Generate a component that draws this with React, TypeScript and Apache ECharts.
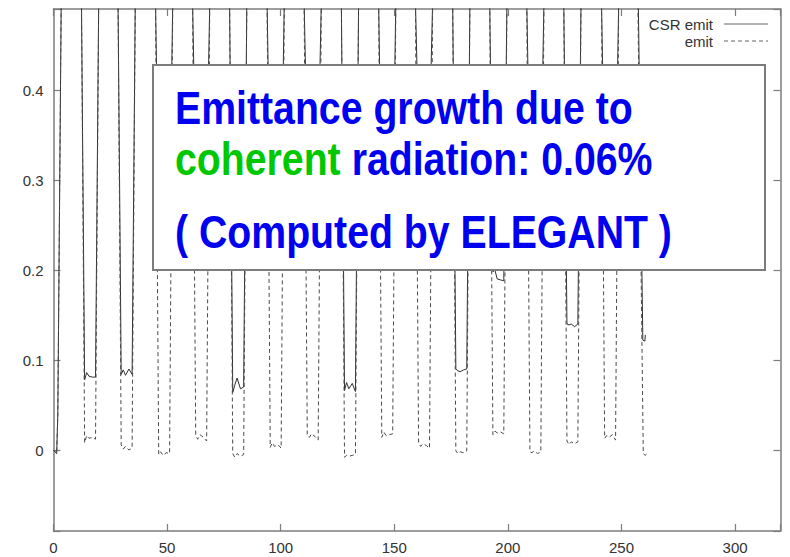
import { useEffect, useRef } from 'react';
import * as echarts from 'echarts';

// Axis extents and tick labels
const xRange = [0, 320];
const yRange = [-0.09, 0.49];
const xTickLabels = ['0', '50', '100', '150', '200', '250', '300'];
const yTickLabels = ['0', '0.1', '0.2', '0.3', '0.4'];

const seriesNames = ['CSR emit', 'emit'];

// Emittance along the beamline: [s, value] pairs. Between the dips the
// values run far above the plotted range and are clipped by the frame.
const emitPoints: [number, number][] = [
  [0, 0], [1.4, -0.004], [1.9, 0.04], [3.4, 0.5], [8.2, 1.6],
  [12.3, 0.5], [13.7, 0.008], [14.6, 0.016], [15.6, 0.013], [17.1, 0.014], [18.5, 0.012], [19.9, 0.5], [24.2, 1.6],
  [28.4, 0.5], [29.8, 0.006], [30.7, 0.001], [31.7, 0.004], [33.2, 0.0], [34.6, 0.002], [36.0, 0.5], [40.4, 1.6],
  [44.9, 0.5], [46.3, -0.005], [47.2, -0.002], [48.2, -0.006], [49.7, -0.003], [51.1, -0.004], [52.5, 0.5], [56.9, 1.6],
  [61.2, 0.5], [62.6, 0.016], [63.5, 0.012], [64.5, 0.017], [66.0, 0.014], [67.4, 0.01], [68.8, 0.5], [73.2, 1.6],
  [77.5, 0.5], [78.9, -0.004], [79.8, -0.008], [80.8, -0.004], [82.3, -0.007], [83.7, -0.005], [85.1, 0.5], [89.5, 1.6],
  [94.0, 0.5], [95.4, 0.003], [96.3, 0.008], [97.3, 0.004], [98.8, 0.006], [100.2, 0.002], [101.6, 0.5], [106.0, 1.6],
  [110.3, 0.5], [111.7, 0.016], [112.6, 0.014], [113.6, 0.018], [115.1, 0.015], [116.5, 0.011], [117.9, 0.5], [122.3, 1.6],
  [126.7, 0.5], [128.1, -0.008], [129.0, -0.006], [130.0, -0.007], [131.5, -0.006], [132.9, -0.005], [134.3, 0.5], [138.7, 1.6],
  [143.1, 0.5], [144.5, 0.014], [145.4, 0.02], [146.4, 0.016], [147.9, 0.017], [149.3, 0.018], [150.7, 0.5], [155.0, 1.6],
  [159.3, 0.5], [160.7, 0.008], [161.6, 0.004], [162.6, 0.007], [164.1, 0.005], [165.5, 0.002], [166.9, 0.5], [171.3, 1.6],
  [175.7, 0.5], [177.1, -0.001], [178.0, -0.004], [179.0, -0.002], [180.5, -0.003], [181.9, -0.001], [183.3, 0.5], [187.6, 1.6],
  [192.0, 0.5], [193.4, 0.017], [194.3, 0.021], [195.3, 0.019], [196.8, 0.02], [198.2, 0.018], [199.6, 0.5], [204.0, 1.6],
  [208.3, 0.5], [209.7, -0.002], [210.6, -0.003], [211.6, -0.001], [213.1, -0.004], [214.5, -0.002], [215.9, 0.5], [220.2, 1.6],
  [224.6, 0.5], [226.0, 0.01], [226.9, 0.006], [227.9, 0.009], [229.4, 0.007], [230.8, 0.009], [232.2, 0.5], [236.7, 1.6],
  [241.2, 0.5], [242.6, 0.013], [243.5, 0.016], [244.5, 0.014], [246.0, 0.017], [247.4, 0.011], [248.8, 0.5], [253.1, 1.6],
  [257.2, 0.5], [259.6, -0.004], [260.4, -0.006], [261.3, -0.004],
];

const csrEmitPoints: [number, number][] = [
  [0, 0], [1.4, -0.004], [1.9, 0.04], [3.4, 0.5], [8.2, 1.6],
  [12.3, 0.5], [13.7, 0.078], [14.6, 0.086], [15.6, 0.082], [17.1, 0.081], [18.5, 0.081], [19.9, 0.5], [24.2, 1.6],
  [28.4, 0.5], [29.8, 0.084], [30.7, 0.089], [31.7, 0.083], [33.2, 0.09], [34.6, 0.084], [36.0, 0.5], [40.4, 1.6],
  [44.9, 0.5], [46.3, 0.262], [47.2, 0.258], [48.2, 0.264], [49.7, 0.26], [51.1, 0.262], [52.5, 0.5], [56.9, 1.6],
  [61.2, 0.5], [62.6, 0.31], [63.5, 0.305], [64.5, 0.312], [66.0, 0.308], [67.4, 0.31], [68.8, 0.5], [73.2, 1.6],
  [77.5, 0.5], [78.9, 0.064], [79.8, 0.072], [80.8, 0.08], [82.3, 0.068], [83.7, 0.07], [85.1, 0.5], [89.5, 1.6],
  [94.0, 0.5], [95.4, 0.28], [96.3, 0.284], [97.3, 0.279], [98.8, 0.282], [100.2, 0.28], [101.6, 0.5], [106.0, 1.6],
  [110.3, 0.5], [111.7, 0.33], [112.6, 0.334], [113.6, 0.328], [115.1, 0.331], [116.5, 0.33], [117.9, 0.5], [122.3, 1.6],
  [126.7, 0.5], [128.1, 0.066], [129.0, 0.075], [130.0, 0.068], [131.5, 0.074], [132.9, 0.065], [134.3, 0.5], [138.7, 1.6],
  [143.1, 0.5], [144.5, 0.27], [145.4, 0.274], [146.4, 0.268], [147.9, 0.271], [149.3, 0.27], [150.7, 0.5], [155.0, 1.6],
  [159.3, 0.5], [160.7, 0.35], [161.6, 0.354], [162.6, 0.348], [164.1, 0.352], [165.5, 0.35], [166.9, 0.5], [171.3, 1.6],
  [175.7, 0.5], [177.1, 0.09], [178.0, 0.088], [179.0, 0.087], [180.5, 0.089], [181.9, 0.09], [183.3, 0.5], [187.6, 1.6],
  [192.0, 0.5], [193.4, 0.198], [194.3, 0.2], [195.3, 0.19], [196.8, 0.189], [198.2, 0.188], [199.6, 0.5], [204.0, 1.6],
  [208.3, 0.5], [209.7, 0.3], [210.6, 0.304], [211.6, 0.298], [213.1, 0.301], [214.5, 0.3], [215.9, 0.5], [220.2, 1.6],
  [224.6, 0.5], [226.0, 0.14], [226.9, 0.139], [227.9, 0.14], [229.4, 0.137], [230.8, 0.14], [232.2, 0.5], [236.7, 1.6],
  [241.2, 0.5], [242.6, 0.29], [243.5, 0.293], [244.5, 0.288], [246.0, 0.291], [247.4, 0.29], [248.8, 0.5], [253.1, 1.6],
  [257.4, 0.5], [259.4, 0.122], [260.3, 0.121], [260.5, 0.128],
];

const noteLines = ['Emittance growth due to', 'coherent', ' radiation: 0.06%', '( Computed by ELEGANT )'];

const FRAME = '#7c7c7c';
const FONT = '"Liberation Sans", Arial, Helvetica, sans-serif';
const BLUE = '#0000f0';
const GREEN = '#00c800';

function xLabel(v: number) {
  const s = String(Math.round(v));
  return xTickLabels.includes(s) && Math.abs(v - Math.round(v)) < 1e-9 ? s : '';
}

function yLabel(v: number) {
  const r = Math.round(v * 10);
  if (Math.abs(v * 10 - r) > 1e-6) return '';
  const s = r === 0 ? '0' : (r / 10).toFixed(1);
  return yTickLabels.includes(s) ? s : '';
}

function axisCommon() {
  return {
    axisLine: { show: true, onZero: false, lineStyle: { color: FRAME, width: 1.5 } },
    axisTick: { show: true, inside: true, length: 7, lineStyle: { color: FRAME, width: 1.2 } },
    splitLine: { show: false },
  };
}

export default function App() {
  const ref = useRef<HTMLDivElement>(null);

  useEffect(() => {
    document.body.style.margin = '0';
    const chart = echarts.init(ref.current!, null, { renderer: 'svg' });

    const titleFont = { fontSize: 47, fontWeight: 'bold' as const, fontFamily: FONT };

    chart.setOption({
      animation: false,
      backgroundColor: '#ffffff',
      grid: { left: 53.5, right: 9.5, top: 9, bottom: 26, outerBoundsMode: 'none' },
      xAxis: [
        {
          type: 'value', min: xRange[0], max: xRange[1], position: 'bottom',
          ...axisCommon(),
          axisLabel: { formatter: xLabel, margin: 9, fontSize: 15, color: '#333', fontFamily: FONT },
        },
        {
          type: 'value', min: xRange[0], max: xRange[1], position: 'top',
          ...axisCommon(),
          axisLabel: { show: false },
        },
      ],
      yAxis: [
        {
          type: 'value', min: yRange[0], max: yRange[1], position: 'left',
          ...axisCommon(),
          axisLabel: { formatter: yLabel, margin: 10, fontSize: 15, color: '#333', fontFamily: FONT },
        },
        {
          type: 'value', min: yRange[0], max: yRange[1], position: 'right',
          ...axisCommon(),
          axisLabel: { show: false },
        },
      ],
      series: [
        {
          name: seriesNames[0], type: 'line', data: csrEmitPoints, xAxisIndex: 0, yAxisIndex: 0,
          showSymbol: false, symbol: 'none', clip: true,
          lineStyle: { color: '#303030', width: 1, type: 'solid' },
        },
        {
          name: seriesNames[1], type: 'line', data: emitPoints, xAxisIndex: 0, yAxisIndex: 0,
          showSymbol: false, symbol: 'none', clip: true,
          lineStyle: { color: '#4a4a4a', width: 1, type: [4, 3] },
        },
      ],
      graphic: [
        // key in the upper right corner
        {
          type: 'text', z: 100, x: 713, y: 24.8,
          style: { text: seriesNames[0], fill: '#333', fontSize: 15, fontFamily: FONT, align: 'right', verticalAlign: 'middle' },
        },
        {
          type: 'line', z: 100, shape: { x1: 724, y1: 24, x2: 768, y2: 24 },
          style: { stroke: '#666', lineWidth: 1 },
        },
        {
          type: 'text', z: 100, x: 713, y: 41.5,
          style: { text: seriesNames[1], fill: '#333', fontSize: 15, fontFamily: FONT, align: 'right', verticalAlign: 'middle' },
        },
        {
          type: 'line', z: 100, shape: { x1: 724, y1: 41, x2: 768, y2: 41 },
          style: { stroke: '#666', lineWidth: 1, lineDash: [4, 3] },
        },
        // annotation box
        {
          type: 'rect', z: 100, shape: { x: 153, y: 65, width: 612, height: 205 },
          style: { fill: '#ffffff', stroke: FRAME, lineWidth: 2 },
        },
        {
          type: 'text', z: 101, x: 175, y: 107.7, scaleX: 0.835,
          style: { text: noteLines[0], fill: BLUE, ...titleFont, align: 'left', verticalAlign: 'middle' },
        },
        {
          type: 'text', z: 101, x: 175, y: 159.2, scaleX: 0.835,
          style: {
            text: `{g|${noteLines[1]}}{b|${noteLines[2]}}`,
            ...titleFont, align: 'left', verticalAlign: 'middle',
            rich: {
              g: { fill: GREEN, ...titleFont },
              b: { fill: BLUE, ...titleFont },
            },
          },
        },
        {
          type: 'text', z: 101, x: 175, y: 231.7, scaleX: 0.835,
          style: { text: noteLines[3], fill: BLUE, ...titleFont, align: 'left', verticalAlign: 'middle' },
        },
      ],
    });

    return () => chart.dispose();
  }, []);

  return <div ref={ref} style={{ position: 'fixed', left: 0, top: 0, width: 790, height: 557 }} />;
}
